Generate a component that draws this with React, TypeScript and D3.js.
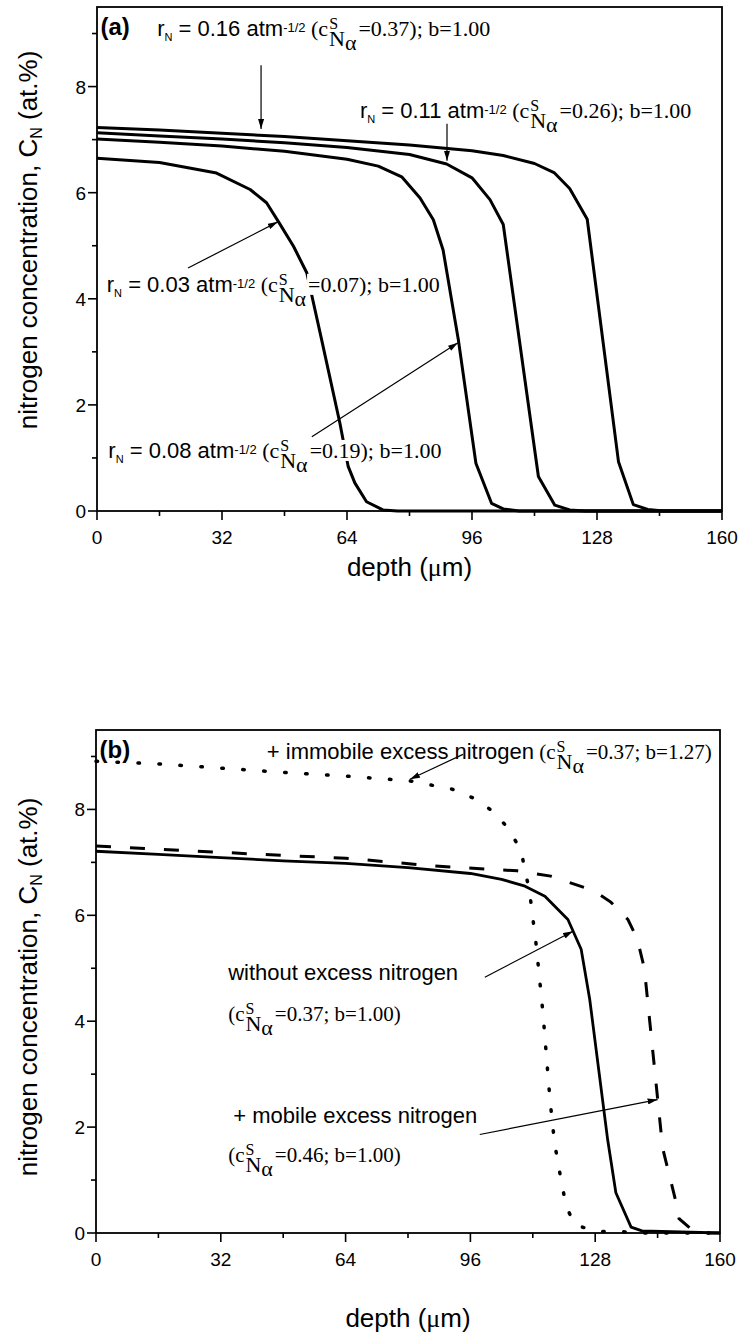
import React, { useLayoutEffect, useRef, useState } from 'react';
import * as d3 from 'd3';

const SANS = '"Liberation Sans", Arial, Helvetica, sans-serif';
const SERIF = '"Liberation Serif", "Times New Roman", Times, serif';

// ---- (a) nitrogen depth profiles for several nitriding potentials (b = 1.00)
const depthR016 = [0, 16, 32, 48, 64, 80, 96, 104, 112, 117, 121, 125.5, 133.5, 137.3, 141, 145, 160];
const concR016 = [7.23, 7.18, 7.12, 7.06, 6.98, 6.9, 6.79, 6.7, 6.55, 6.38, 6.08, 5.5, 0.93, 0.12, 0.03, 0, 0];

const depthR011 = [0, 16, 32, 48, 64, 80, 89.5, 96, 100.6, 104, 113, 117.2, 121, 125, 160];
const concR011 = [7.13, 7.07, 7.01, 6.94, 6.85, 6.72, 6.54, 6.28, 5.87, 5.4, 0.65, 0.11, 0.02, 0, 0];

const depthR008 = [0, 16, 32, 48, 64, 72, 78, 82.7, 86.1, 88.6, 92.5, 97, 101, 104, 108, 160];
const concR008 = [7.01, 6.95, 6.88, 6.78, 6.63, 6.5, 6.3, 5.9, 5.49, 4.92, 3.23, 0.9, 0.145, 0.04, 0, 0];

const depthR003 = [0, 16, 30.6, 39.2, 43.4, 46.4, 50.3, 53.7, 57.5, 62.2, 64.3, 66, 69, 73.2, 77, 160];
const concR003 = [6.65, 6.57, 6.37, 6.06, 5.81, 5.46, 4.99, 4.49, 3.23, 1.65, 0.84, 0.53, 0.175, 0.02, 0, 0];

// ---- (b) effect of excess nitrogen (r_N = 0.16 atm^-1/2)
const depthNoExcess = [0, 16, 32, 48, 64, 80, 96, 104, 110, 115.1, 121, 124.4, 126.6, 131.2, 133.3, 137.2, 140, 160];
const concNoExcess = [7.21, 7.15, 7.09, 7.03, 6.98, 6.9, 6.79, 6.68, 6.55, 6.36, 5.92, 5.36, 4.41, 1.76, 0.76, 0.11, 0.04, 0];

const depthMobile = [0, 16, 32, 48, 64, 87, 108, 116.6, 127.8, 132, 136.4, 138.8, 140.6, 145.3, 148.6, 149.5, 153, 156, 160];
const concMobile = [7.31, 7.25, 7.19, 7.13, 7.08, 6.93, 6.84, 6.74, 6.46, 6.25, 5.92, 5.55, 5.0, 1.6, 0.62, 0.27, 0.05, 0, 0];

const depthImmobile = [0, 16, 32, 48, 64, 80.4, 91.4, 96.6, 101.7, 106, 109, 111.2, 112.9, 114.6, 116.4, 117.6, 119.5, 120.6, 122.7, 128.1, 133.4, 140, 160];
const concImmobile = [8.91, 8.86, 8.78, 8.7, 8.63, 8.54, 8.38, 8.22, 7.97, 7.62, 7.21, 6.43, 5.42, 4.16, 2.52, 1.69, 0.9, 0.5, 0.16, 0.03, 0.03, 0, 0];

// ---- annotation values
const nitridingRates = ['0.16', '0.11', '0.03', '0.08'];
const surfaceConcA = ['0.37', '0.26', '0.07', '0.19'];
const surfaceConcB = ['0.37', '0.37', '0.46'];
const trapFactorB = ['1.27', '1.00', '1.00'];

// ---- axes
const depthDomain = [0, 160];
const concDomain = [0, 9.5];
const depthTicks = [0, 32, 64, 96, 128, 160];
const depthMinorTicks = [16, 48, 80, 112, 144];
const concTicks = [0, 2, 4, 6, 8];
const concMinorTicks = [1, 3, 5, 7, 9];

type Frame = { left: number; right: number; top: number; bottom: number; xTitleY: number; yTitleMid: number };
const frameA: Frame = { left: 97, right: 722, top: 7, bottom: 511, xTitleY: 576, yTitleMid: 240 };
const frameB: Frame = { left: 96, right: 720, top: 730, bottom: 1233, xTitleY: 1327, yTitleMid: 987 };

type Part = { t: string; serif?: boolean; size?: number; shift?: number; dx?: number; bold?: boolean };

function RichText({ x, y, parts, size = 22, backdrop = false, anchor = 'start', transform }: {
  x: number; y: number; parts: Part[]; size?: number; backdrop?: boolean; anchor?: string; transform?: string;
}) {
  const spanRefs = useRef<(SVGTSpanElement | null)[]>([]);
  const [boxes, setBoxes] = useState<DOMRect[]>([]);
  useLayoutEffect(() => {
    if (!backdrop) return;
    const b: DOMRect[] = [];
    spanRefs.current.forEach((s) => { if (s) b.push(s.getBBox()); });
    setBoxes(b);
  }, [backdrop]);
  let prev = 0;
  return (
    <g transform={transform}>
      {boxes.map((b, i) => (
        <rect key={i} x={b.x - 1} y={b.y + 2} width={b.width + 2} height={Math.max(0, b.height - 4)} fill="#fff" />
      ))}
      <text x={x} y={y} textAnchor={anchor} style={{ whiteSpace: 'pre' }} fill="#000">
        {parts.map((p, i) => {
          const s = p.shift ?? 0;
          const dy = s - prev;
          prev = s;
          return (
            <tspan
              key={i}
              ref={(el) => { spanRefs.current[i] = el; }}
              dy={dy}
              dx={p.dx}
              fontFamily={p.serif ? SERIF : SANS}
              fontSize={p.size ?? size}
              fontWeight={p.bold ? 'bold' : 'normal'}
            >
              {p.t}
            </tspan>
          );
        })}
      </text>
    </g>
  );
}

const ratePart = (rate: string): Part[] => [
  { t: 'r' },
  { t: 'N', size: 11, shift: 5 },
  { t: ` = ${rate} atm` },
  { t: '-1/2', size: 13, shift: -4 },
];

// c^S with the stacked N_alpha subscript, followed by the rest of the bracket
const surfacePart = (lead: string, rest: string, size: number): Part[] => [
  { t: `${lead}(c`, serif: true, size },
  { t: 'S', serif: true, size: 16, shift: -7, dx: 1 },
  { t: 'N', serif: true, size: 22, shift: 10, dx: -9 },
  { t: 'α', serif: true, size: 22, shift: 14 },
  { t: rest, serif: true, size, dx: 2 },
];

function Axes({ f, x, y, tag }: { f: Frame; x: d3.ScaleLinear<number, number>; y: d3.ScaleLinear<number, number>; tag: string }) {
  const major = 9;
  const minor = 5;
  return (
    <g>
      <rect x={f.left} y={f.top} width={f.right - f.left} height={f.bottom - f.top} fill="none" stroke="#000" strokeWidth={1.8} />
      {depthTicks.map((d) => (
        <g key={`xt${d}`}>
          <line x1={x(d)} x2={x(d)} y1={f.bottom} y2={f.bottom + major} stroke="#000" strokeWidth={1.6} />
          <text x={x(d)} y={f.bottom + 33} textAnchor="middle" fontFamily={SANS} fontSize={19}>{d}</text>
        </g>
      ))}
      {depthMinorTicks.map((d) => (
        <line key={`xm${d}`} x1={x(d)} x2={x(d)} y1={f.bottom} y2={f.bottom + minor} stroke="#000" strokeWidth={1.6} />
      ))}
      {concTicks.map((c) => (
        <g key={`yt${c}`}>
          <line x1={f.left - major} x2={f.left} y1={y(c)} y2={y(c)} stroke="#000" strokeWidth={1.6} />
          <text x={f.left - 11} y={y(c) + 7} textAnchor="end" fontFamily={SANS} fontSize={19}>{c}</text>
        </g>
      ))}
      {concMinorTicks.map((c) => (
        <line key={`ym${c}`} x1={f.left - minor} x2={f.left} y1={y(c)} y2={y(c)} stroke="#000" strokeWidth={1.6} />
      ))}
      <text x={(f.left + f.right) / 2} y={f.xTitleY} textAnchor="middle" fontFamily={SANS} fontSize={26} style={{ whiteSpace: 'pre' }}>
        depth (<tspan fontFamily={SERIF}>μ</tspan>m)
      </text>
      <RichText
        x={0}
        y={0}
        anchor="middle"
        size={26}
        transform={`translate(37,${f.yTitleMid}) rotate(-90)`}
        parts={[
          { t: 'nitrogen concentration, C' },
          { t: 'N', size: 16, shift: 5 },
          { t: ' (at.%)' },
        ]}
      />
      <RichText x={x(0.9)} y={y(8.97)} size={24} parts={[{ t: tag, bold: true }]} />
    </g>
  );
}

function Arrow({ x1, y1, x2, y2 }: { x1: number; y1: number; x2: number; y2: number }) {
  return <line x1={x1} y1={y1} x2={x2} y2={y2} stroke="#000" strokeWidth={1.2} markerEnd="url(#arrowHead)" />;
}

export default function App() {
  const xA = d3.scaleLinear().domain(depthDomain).range([frameA.left, frameA.right]);
  const yA = d3.scaleLinear().domain(concDomain).range([frameA.bottom, frameA.top]);
  const xB = d3.scaleLinear().domain(depthDomain).range([frameB.left, frameB.right]);
  const yB = d3.scaleLinear().domain(concDomain).range([frameB.bottom, frameB.top]);

  const path = (xs: d3.ScaleLinear<number, number>, ys: d3.ScaleLinear<number, number>, depth: number[], conc: number[]) =>
    d3.line<[number, number]>().x((p) => xs(p[0])).y((p) => ys(p[1]))(d3.zip(depth, conc) as [number, number][]) ?? '';

  const profilesA = [
    [depthR016, concR016],
    [depthR011, concR011],
    [depthR008, concR008],
    [depthR003, concR003],
  ];

  return (
    <svg width={740} height={1335} style={{ position: 'absolute', left: 0, top: 0, background: '#fff' }} fontFamily={SANS}>
      <defs>
        <marker id="arrowHead" viewBox="0 0 10 6" refX={10} refY={3} markerWidth={10} markerHeight={6} markerUnits="userSpaceOnUse" orient="auto">
          <path d="M0,0 L10,3 L0,6 Z" fill="#000" />
        </marker>
      </defs>
      <rect x={0} y={0} width={740} height={1335} fill="#fff" />

      {/* (a) */}
      <g>
        {profilesA.map(([d, c], i) => (
          <path key={i} d={path(xA, yA, d, c)} fill="none" stroke="#000" strokeWidth={3} strokeLinejoin="round" />
        ))}
        <RichText x={xA(15.4)} y={yA(8.96)} parts={[...ratePart(nitridingRates[0]), ...surfacePart(' ', `=${surfaceConcA[0]}); b=1.00`, 22)]} backdrop />
        <Arrow x1={xA(42)} y1={yA(8.4)} x2={xA(42)} y2={yA(7.2)} />
        <RichText x={xA(67.3)} y={yA(7.4)} parts={[...ratePart(nitridingRates[1]), ...surfacePart(' ', `=${surfaceConcA[1]}); b=1.00`, 22)]} backdrop />
        <Arrow x1={xA(89.6)} y1={yA(7.3)} x2={xA(89.6)} y2={yA(6.6)} />
        <RichText x={xA(2.5)} y={yA(4.13)} parts={[...ratePart(nitridingRates[2]), ...surfacePart(' ', `=${surfaceConcA[2]}); b=1.00`, 22)]} backdrop />
        <Arrow x1={xA(23.3)} y1={yA(4.58)} x2={xA(46.3)} y2={yA(5.45)} />
        <RichText x={xA(2.9)} y={yA(1.0)} parts={[...ratePart(nitridingRates[3]), ...surfacePart(' ', `=${surfaceConcA[3]}); b=1.00`, 22)]} backdrop />
        <Arrow x1={xA(55)} y1={yA(1.4)} x2={xA(92.4)} y2={yA(3.17)} />
        <Axes f={frameA} x={xA} y={yA} tag="(a)" />
      </g>

      {/* (b) */}
      <g>
        <path d={path(xB, yB, depthImmobile, concImmobile)} fill="none" stroke="#000" strokeWidth={3.5} strokeLinecap="round" strokeDasharray="1.5 19.5" />
        <path d={path(xB, yB, depthMobile, concMobile)} fill="none" stroke="#000" strokeWidth={3} strokeDasharray="15 19" />
        <path d={path(xB, yB, depthNoExcess, concNoExcess)} fill="none" stroke="#000" strokeWidth={2.8} strokeLinejoin="round" />

        <RichText x={xB(43.8)} y={yB(8.95)} parts={[{ t: '+ immobile excess nitrogen' }, ...surfacePart(' ', `=${surfaceConcB[0]}; b=${trapFactorB[0]})`, 21)]} />
        <Arrow x1={xB(94.1)} y1={yB(9.04)} x2={xB(80.5)} y2={yB(8.57)} />

        <RichText x={xB(33.9)} y={yB(4.77)} parts={[{ t: 'without excess nitrogen' }]} />
        <RichText x={xB(33.9)} y={yB(4.01)} parts={surfacePart('', `=${surfaceConcB[1]}; b=${trapFactorB[1]})`, 21)} />
        <Arrow x1={xB(99.7)} y1={yB(4.83)} x2={xB(122.3)} y2={yB(5.7)} />

        <RichText x={xB(35.2)} y={yB(2.07)} parts={[{ t: '+ mobile excess nitrogen' }]} />
        <RichText x={xB(33.9)} y={yB(1.35)} parts={surfacePart('', `=${surfaceConcB[2]}; b=${trapFactorB[2]})`, 21)} />
        <Arrow x1={xB(98.4)} y1={yB(1.86)} x2={xB(144)} y2={yB(2.52)} />

        <Axes f={frameB} x={xB} y={yB} tag="(b)" />
      </g>
    </svg>
  );
}
